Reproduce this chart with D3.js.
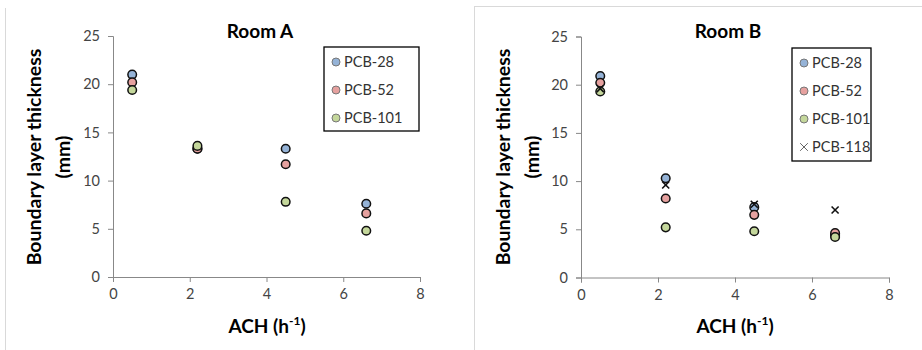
<!DOCTYPE html>
<html><head><meta charset="utf-8">
<script src="https://cdn.jsdelivr.net/npm/d3@7"></script>
<style>
html,body{margin:0;padding:0;background:#fff;}
svg{display:block;font-family:Lato,"Open Sans",sans-serif;}
</style></head>
<body><svg id="c" width="922" height="350"></svg>
<script>
const ach = [0.5, 2.2, 4.5, 6.6];
const xTicks = [0, 2, 4, 6, 8];
const yTicks = [0, 5, 10, 15, 20, 25];
const roomA_PCB28  = [21.0, 13.3, 13.3, 7.6];
const roomA_PCB52  = [20.2, 13.3, 11.7, 6.6];
const roomA_PCB101 = [19.4, 13.6, 7.8, 4.8];
const roomB_PCB28  = [20.9, 10.3, 7.3, 4.4];
const roomB_PCB52  = [20.2, 8.2, 6.5, 4.6];
const roomB_PCB101 = [19.3, 5.2, 4.8, 4.2];
const roomB_PCB118 = [19.6, 9.6, 7.6, 7.0];
const seriesNames = ["PCB-28", "PCB-52", "PCB-101", "PCB-118"];
const seriesColors = {"PCB-28":"#95b3d7", "PCB-52":"#e6a19f", "PCB-101":"#c4d79b", "PCB-118":"none"};

const svg = d3.select("#c");

// panel borders
svg.append("line").attr("x1",5.5).attr("x2",5.5).attr("y1",8).attr("y2",350).attr("stroke","#d9d9d9");
svg.append("line").attr("x1",474.5).attr("x2",474.5).attr("y1",6).attr("y2",350).attr("stroke","#d9d9d9");
svg.append("line").attr("x1",474.5).attr("x2",922).attr("y1",6.5).attr("y2",6.5).attr("stroke","#d9d9d9");

function panel(opt){
  const x = d3.scaleLinear().domain([0,8]).range([opt.x0, opt.x1]);
  const y = d3.scaleLinear().domain([0,25]).range([opt.y0, opt.y1]);
  const g = svg.append("g");
  const ax = g.append("g").attr("transform",`translate(0,${opt.y0})`)
    .call(d3.axisBottom(x).tickValues(xTicks).tickSize(5).tickPadding(7).tickFormat(d3.format("d")));
  const ay = g.append("g").attr("transform",`translate(${opt.x0},0)`)
    .call(d3.axisLeft(y).tickValues(yTicks).tickSize(5).tickPadding(8).tickFormat(d3.format("d")));
  [ax, ay].forEach(a=>{
    a.select(".domain").attr("stroke","#888");
    a.selectAll(".tick line").attr("stroke","#888");
    a.selectAll(".tick text").attr("fill","#444").style("font-size","14.5px").style("font-family","Lato,'Open Sans',sans-serif");
  });
  // title
  g.append("text").attr("x",opt.titleX).attr("y",38).attr("text-anchor","middle")
    .style("font-size","19px").style("font-weight","bold").text(opt.title);
  // y label
  const yl = g.append("text").attr("transform",`translate(${opt.ylX},157) rotate(-90)`)
    .attr("text-anchor","middle").style("font-size","19.5px").style("font-weight","bold");
  yl.append("tspan").attr("x",0).attr("dy",0).text("Boundary layer thickness");
  yl.append("tspan").attr("x",0).attr("dy",29).text("(mm)");
  // x label
  const xl = g.append("text").attr("x",opt.xlX).attr("y",333).attr("text-anchor","middle")
    .style("font-size","19px").style("font-weight","bold");
  xl.append("tspan").text("ACH (h");
  xl.append("tspan").attr("dy",-8).style("font-size","12px").text("-1");
  xl.append("tspan").attr("dy",8).text(")");
  // points
  opt.series.forEach(s=>{
    const pts = ach.map((a,i)=>({a, v:s.values[i]}));
    if (s.name === "PCB-118"){
      const sym = d3.symbol().type(d3.symbolX).size(34);
      g.append("g").selectAll("path").data(pts).join("path")
        .attr("transform",d=>`translate(${x(d.a)},${y(d.v)})`).attr("d",sym)
        .attr("fill","none").attr("stroke","#111").attr("stroke-width",1.6);
    } else {
      g.append("g").selectAll("circle").data(pts).join("circle")
        .attr("cx",d=>x(d.a)).attr("cy",d=>y(d.v)).attr("r",4.3)
        .attr("fill",seriesColors[s.name]).attr("stroke","#111").attr("stroke-width",1.5);
    }
  });
  // legend
  const L = opt.legend;
  g.append("rect").attr("x",L.x).attr("y",L.y).attr("width",L.w).attr("height",L.h)
    .attr("fill","#fff").attr("stroke","#000").attr("stroke-width",1.3);
  opt.series.forEach((s,i)=>{
    const cy = L.y + 15 + i*28;
    if (s.name === "PCB-118"){
      g.append("path").attr("transform",`translate(${L.x+12},${cy})`)
        .attr("d", d3.symbol().type(d3.symbolX).size(40)).attr("fill","none").attr("stroke","#666").attr("stroke-width",1);
    } else {
      g.append("circle").attr("cx",L.x+12).attr("cy",cy).attr("r",4)
        .attr("fill",seriesColors[s.name]).attr("stroke","#777").attr("stroke-width",1);
    }
    g.append("text").attr("x",L.x+20).attr("y",cy+5).style("font-size","14.5px").attr("fill","#333").text(s.name);
  });
}

panel({x0:113, x1:420, y0:277, y1:36, title:"Room A", titleX:260, ylX:41, xlX:267,
  legend:{x:324, y:47, w:95, h:84},
  series:[{name:"PCB-28",values:roomA_PCB28},{name:"PCB-52",values:roomA_PCB52},{name:"PCB-101",values:roomA_PCB101}]});
panel({x0:581, x1:889, y0:277.5, y1:36.5, title:"Room B", titleX:728, ylX:510, xlX:735,
  legend:{x:792, y:48, w:79, h:113},
  series:[{name:"PCB-28",values:roomB_PCB28},{name:"PCB-52",values:roomB_PCB52},{name:"PCB-101",values:roomB_PCB101},{name:"PCB-118",values:roomB_PCB118}]});
</script></body></html>
